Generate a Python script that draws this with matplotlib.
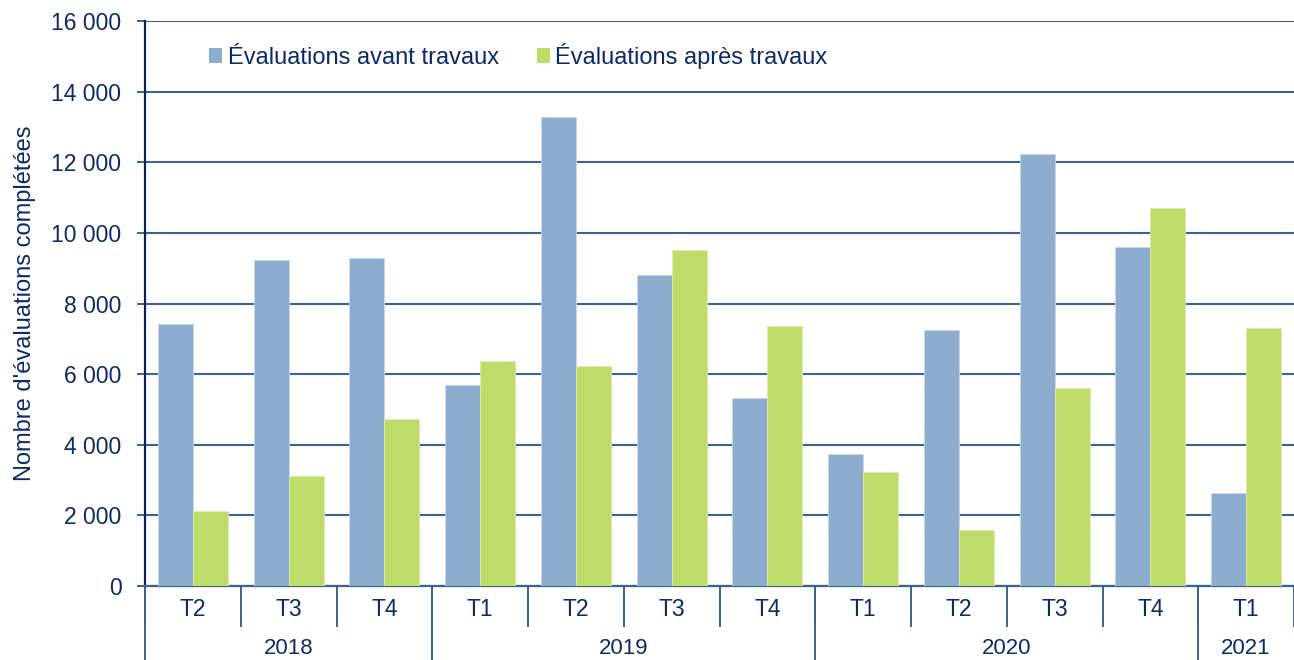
import matplotlib.pyplot as plt
from matplotlib.patches import Patch
from matplotlib.ticker import FuncFormatter

# Données
trimestres = ["T2", "T3", "T4", "T1", "T2", "T3", "T4", "T1", "T2", "T3", "T4", "T1"]
annees = ["2018", "2019", "2020", "2021"]
nb_trim_par_annee = [3, 4, 4, 1]
avant_travaux = [7420, 9240, 9300, 5690, 13290, 8810, 5310, 3740, 7260, 12240, 9590, 2640]
apres_travaux = [2120, 3110, 4720, 6370, 6240, 9520, 7350, 3240, 1590, 5610, 10710, 7310]

bleu = "#8DADCF"
vert = "#BFDB6A"
texte = "#0E2A66"
grille = "#3D6290"

plt.rcParams["font.family"] = ["Liberation Sans", "DejaVu Sans"]

fig = plt.figure(figsize=(12.94, 6.6), dpi=100)
ax = fig.add_axes([0.1121, 0.1121, 0.8879, 0.8561])

x = list(range(len(trimestres)))
larg = 0.365
ax.bar([i - larg / 2 for i in x], avant_travaux, width=larg, color=bleu,
       edgecolor="#C8D7EA", linewidth=0.6, zorder=3)
ax.bar([i + larg / 2 for i in x], apres_travaux, width=larg, color=vert,
       edgecolor="#DCEBB0", linewidth=0.6, zorder=3)

ax.set_xlim(-0.5, len(trimestres) - 0.5)
ax.set_ylim(0, 16000)
ax.set_yticks(range(0, 16001, 2000))
ax.yaxis.set_major_formatter(FuncFormatter(lambda v, p: f"{int(v):,}".replace(",", " ")))
ax.grid(axis="y", color=grille, linewidth=1.5, zorder=1)
ax.set_axisbelow(True)

for s in ["top", "right"]:
    ax.spines[s].set_visible(False)
ax.spines["left"].set_color("#0A2258")
ax.spines["left"].set_linewidth(1.6)
ax.spines["bottom"].set_color(grille)
ax.spines["bottom"].set_linewidth(1.6)

ax.tick_params(axis="y", colors=grille, labelcolor=texte, labelsize=16.5,
               length=6, width=1.4, pad=11)
ax.set_xticks([])

# Axe des x à deux niveaux
tr = ax.get_xaxis_transform()
for i, t in enumerate(trimestres):
    ax.text(i, -0.042, t, transform=tr, ha="center", va="center",
            fontsize=16.5, color=texte)
for i in range(len(trimestres) + 1):
    ax.plot([i - 0.5, i - 0.5], [0, -0.071], transform=tr, color=grille,
            linewidth=1.4, clip_on=False)

debut = -0.5
for annee, n in zip(annees, nb_trim_par_annee):
    ax.plot([debut, debut], [0, -0.14], transform=tr, color=grille,
            linewidth=1.4, clip_on=False)
    ax.text(debut + n / 2, -0.111, annee, transform=tr, ha="center", va="center",
            fontsize=16, color=texte)
    debut += n

ax.set_ylabel("Nombre d'évaluations complétées", fontsize=17, color=texte, labelpad=11)

poignees = [Patch(facecolor=bleu, edgecolor="none"), Patch(facecolor=vert, edgecolor="none")]
ax.legend(poignees, ["Évaluations avant travaux", "Évaluations après travaux"],
          loc="upper left", bbox_to_anchor=(0.037, 0.999), ncol=2, frameon=False,
          fontsize=17, labelcolor=texte, handlelength=0.55, handleheight=0.55,
          handletextpad=0.25, columnspacing=1.6)

fig.savefig("out.png", dpi=100)
